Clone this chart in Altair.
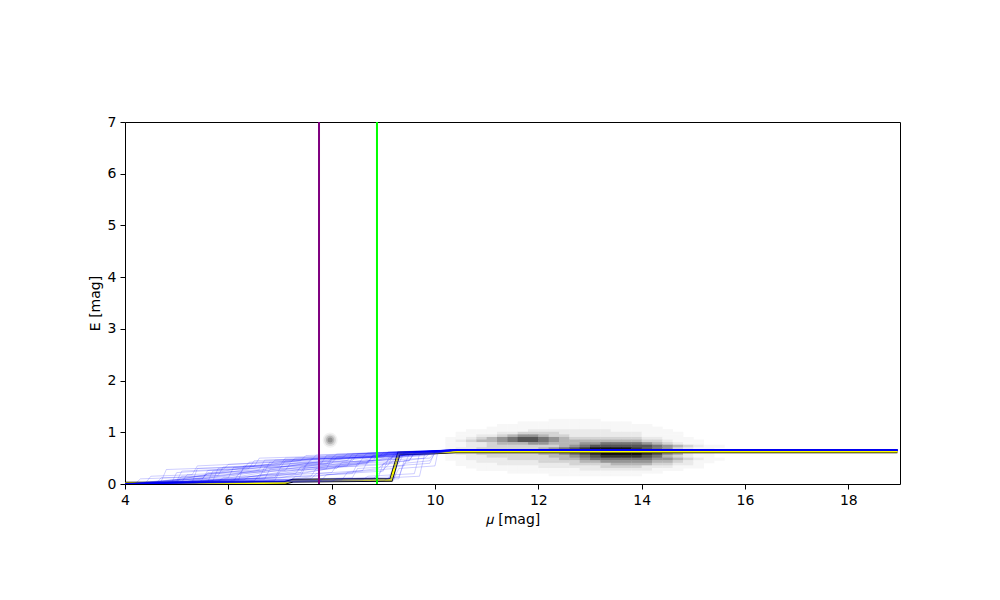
import altair as alt
import pandas as pd

# ---------------- data ----------------
X_DOMAIN = [4, 19]
Y_DOMAIN = [0, 7]
X_TICKS = [4, 6, 8, 10, 12, 14, 16, 18]
Y_TICKS = [0, 1, 2, 3, 4, 5, 6, 7]
X_TITLE = "𝜇 [mag]"
Y_TITLE = "E [mag]"

PURPLE_MU = [7.755]
GREEN_MU = [8.877]

# median curve (yellow with black edge)
MEDIAN_MU = [4.0, 6.3, 7.1, 7.25, 9.15, 9.3, 10.0, 10.4, 18.95]
MEDIAN_E = [0.01, 0.015, 0.025, 0.065, 0.08, 0.59, 0.61, 0.63, 0.63]

# individual samples (blue): "mu E" pairs
SAMPLE_PATHS = [
    "4 0, 4.9 0.02, 5.0 0.22, 5.9 0.28, 6.0 0.38, 7.4 0.45, 7.5 0.55, 9.4 0.6, 10.2 0.655",
    "4 0, 5.3 0.03, 5.4 0.3, 6.8 0.35, 6.9 0.46, 8.6 0.52, 8.7 0.6, 10.3 0.655",
    "4 0, 4.6 0.01, 4.7 0.12, 5.8 0.16, 5.9 0.33, 7.8 0.4, 7.9 0.55, 10.4 0.655",
    "4 0, 5.6 0.04, 5.7 0.25, 6.4 0.3, 6.5 0.45, 9.0 0.55, 9.1 0.62, 10.3 0.655",
    "4 0, 6.1 0.05, 6.2 0.2, 7.1 0.26, 7.2 0.4, 8.3 0.45, 8.4 0.58, 10.2 0.655",
    "4 0, 4.2 0.01, 4.3 0.1, 5.5 0.14, 5.6 0.2, 6.6 0.28, 6.7 0.46, 8.9 0.52, 9.0 0.6, 10.5 0.655",
    "4 0, 6.5 0.06, 6.6 0.18, 7.4 0.22, 7.5 0.38, 8.8 0.45, 8.9 0.58, 10.3 0.655",
    "4 0, 5.0 0.03, 5.1 0.15, 6.2 0.18, 6.3 0.3, 8.0 0.4, 8.1 0.52, 9.7 0.58, 10.4 0.655",
    "4 0, 6.9 0.07, 7.0 0.25, 8.1 0.3, 8.2 0.42, 9.3 0.48, 9.4 0.6, 10.3 0.655",
    "4 0, 5.8 0.05, 5.9 0.12, 7.3 0.2, 7.4 0.33, 8.7 0.4, 8.8 0.55, 10.2 0.655",
    "4 0, 7.2 0.06, 7.3 0.15, 8.4 0.2, 8.5 0.4, 9.5 0.45, 9.6 0.6, 10.4 0.655",
    "4 0, 6.0 0.04, 6.1 0.08, 7.6 0.15, 7.7 0.3, 9.1 0.38, 9.2 0.58, 10.3 0.655",
    "4 0, 7.8 0.07, 7.9 0.18, 9.0 0.25, 9.1 0.5, 9.8 0.55, 10.3 0.655",
    "4 0, 8.2 0.08, 8.3 0.22, 9.2 0.3, 9.3 0.55, 10.4 0.655",
    "4 0, 8.6 0.08, 8.7 0.15, 9.6 0.2, 9.7 0.58, 10.4 0.655",
    "4 0, 9.1 0.09, 9.2 0.35, 9.9 0.4, 10.0 0.62, 10.5 0.655",
    "4 0, 9.2 0.07, 9.3 0.55, 10.3 0.655",
    "4 0, 9.0 0.06, 9.1 0.12, 9.7 0.15, 9.8 0.58, 10.4 0.655",
    "4 0, 8.8 0.1, 9.35 0.6, 10.3 0.655",
    "4 0, 7.5 0.05, 9.2 0.1, 9.3 0.3, 10.0 0.35, 10.05 0.6, 10.5 0.655",
    "4 0, 5.5 0.05, 7.0 0.2, 8.5 0.42, 9.5 0.57, 10.3 0.655",
    "4 0, 6.0 0.08, 7.5 0.3, 9.0 0.52, 10.2 0.655",
    "4 0, 5.0 0.06, 6.5 0.25, 8.0 0.47, 9.5 0.6, 10.2 0.655",
    "4 0, 6.5 0.1, 8.0 0.3, 9.2 0.5, 10.3 0.655",
    "4 0, 4.8 0.04, 6.2 0.3, 7.7 0.5, 9.2 0.6, 10.3 0.655",
    "4 0, 7.0 0.12, 8.2 0.35, 9.4 0.55, 10.4 0.655",
    "4 0, 5.2 0.1, 6.0 0.12, 6.1 0.32, 7.2 0.42, 7.3 0.5, 9.9 0.6, 10.4 0.655",
    "4 0, 7.6 0.1, 7.7 0.2, 8.6 0.26, 8.7 0.45, 9.9 0.5, 10.0 0.62, 10.5 0.655",
    "4 0, 6.3 0.08, 6.4 0.14, 8.0 0.22, 8.1 0.36, 9.3 0.4, 9.4 0.6, 10.4 0.655",
    "4 0, 5.4 0.02, 5.5 0.08, 6.9 0.12, 7.0 0.3, 8.5 0.35, 8.6 0.5, 10.0 0.58, 10.4 0.655",
    "4 0, 8.0 0.05, 8.1 0.1, 9.3 0.14, 9.4 0.4, 9.9 0.45, 10.0 0.6, 10.5 0.655",
    "4 0, 4.5 0.02, 5.8 0.2, 7.0 0.38, 8.5 0.52, 10.0 0.62, 10.4 0.655",
    "4 0, 6.7 0.09, 6.8 0.28, 8.3 0.35, 8.4 0.5, 9.7 0.55, 10.4 0.655",
    "4 0, 8.9 0.12, 9.0 0.4, 9.5 0.45, 9.6 0.6, 10.4 0.655",
    "4 0, 7.3 0.1, 8.9 0.3, 9.25 0.58, 10.3 0.655",
    "4 0, 5.1 0.04, 5.2 0.18, 6.7 0.24, 6.8 0.42, 8.2 0.5, 8.3 0.58, 10.3 0.655",
    "4 0, 5.0 0.05, 5.1 0.25, 6.3 0.3, 6.4 0.42, 8.0 0.5, 8.1 0.58, 10.2 0.655",
    "4 0, 5.7 0.06, 5.8 0.3, 7.0 0.36, 7.1 0.5, 9.0 0.57, 10.3 0.655",
    "4 0, 4.4 0.02, 4.5 0.15, 5.3 0.18, 5.4 0.35, 7.6 0.45, 7.7 0.56, 10.3 0.655",
    "4 0, 6.2 0.08, 6.3 0.35, 8.4 0.45, 8.5 0.58, 10.3 0.655",
    "4 0, 5.2 0.05, 6.8 0.3, 8.2 0.48, 9.6 0.6, 10.3 0.655",
    "4 0, 6.0 0.15, 7.0 0.3, 7.1 0.45, 9.4 0.55, 9.5 0.62, 10.4 0.655",
    "4 0, 4.7 0.05, 4.8 0.28, 6.5 0.34, 6.6 0.5, 9.2 0.58, 10.3 0.655",
    "4 0, 7.4 0.15, 7.5 0.35, 8.7 0.42, 8.8 0.56, 10.3 0.655",
    "4 0, 5.9 0.1, 7.2 0.3, 8.6 0.5, 9.8 0.62, 10.3 0.655",
    "4 0, 6.6 0.12, 6.7 0.32, 7.9 0.38, 8.0 0.5, 9.5 0.56, 10.4 0.655",
    "4 0, 8.4 0.12, 8.5 0.3, 9.4 0.35, 9.5 0.58, 10.4 0.655",
    "4 0, 5.5 0.1, 5.6 0.22, 7.9 0.3, 8.0 0.48, 9.0 0.52, 9.1 0.6, 10.3 0.655",
    "4 0, 9.3 0.1, 9.4 0.45, 9.8 0.5, 9.9 0.6, 10.4 0.655",
    "4 0, 4.9 0.08, 5.5 0.1, 5.6 0.26, 7.5 0.35, 7.6 0.48, 9.6 0.56, 10.4 0.655",
]
SAMPLE_END_MU = 18.95
SAMPLE_END_E = 0.655

# small isolated density spot
SPOT_MU = [7.97]
SPOT_E = [0.85]

# density map (darkness 0-9), columns start at mu=10.0 step 0.2,
# rows: lower edge from E=1.20 downwards in 0.05 steps
DENSITY_MU_START = 10.0
DENSITY_MU_STEP = 0.2
DENSITY_E_TOP = 1.20
DENSITY_E_STEP = 0.05
DENSITY_ROWS = [
    "000000000001111100000000000000",  # 1.20
    "000000001111111111100000000000",  # 1.15
    "000000111111111111111000000000",  # 1.10
    "000001111111111111111100000000",  # 1.05
    "000111111222222221111110000000",  # 1.00
    "001111223333222222221111000000",  # 0.95
    "001122345543322222221111000000",  # 0.90
    "011234567765433333332211100000",  # 0.85
    "012344567765444444443321110000",  # 0.80
    "011223444554445566665432110000",  # 0.75
    "011223333333456777777654321100",  # 0.70
    "012233333345678999987653211000",  # 0.65
    "012233333345678999998754211000",  # 0.60
    "012233333344567899998754211000",  # 0.55
    "011223333334456788887643211000",  # 0.50
    "011222233333445666666554321100",  # 0.45
    "001122222233334455555443211000",  # 0.40
    "001111222222233334444332210000",  # 0.35
    "000111111122222233332221110000",  # 0.30
    "000011111111112222222111000000",  # 0.25
    "000000011111111111111100000000",  # 0.20
    "000000000001111111110000000000",  # 0.15
]
LEVEL_GRAY = [255, 247, 234, 212, 182, 150, 118, 86, 52, 18]

# ---------------- tables ----------------
dens = []
for r, row in enumerate(DENSITY_ROWS):
    e0 = DENSITY_E_TOP - r * DENSITY_E_STEP
    for c, ch in enumerate(row):
        lvl = int(ch)
        if lvl == 0:
            continue
        m0 = DENSITY_MU_START + c * DENSITY_MU_STEP
        g = LEVEL_GRAY[lvl]
        dens.append({
            "mu": m0, "mu2": m0 + DENSITY_MU_STEP * 1.04,
            "e": e0, "e2": e0 + DENSITY_E_STEP * 1.2,
            "fill": f"#{g:02x}{g:02x}{g:02x}",
        })
dens_df = pd.DataFrame(dens)

samp = []
for i, path in enumerate(SAMPLE_PATHS):
    pts = [tuple(float(v) for v in p.split()) for p in path.split(",")]
    pts.append((SAMPLE_END_MU, SAMPLE_END_E))
    for k, (m, e) in enumerate(pts):
        samp.append({"id": i, "k": k, "mu": m, "e": e})
samp_df = pd.DataFrame(samp)

med_df = pd.DataFrame({"mu": MEDIAN_MU, "e": MEDIAN_E, "k": list(range(len(MEDIAN_MU)))})
spot_df = pd.DataFrame({"mu": SPOT_MU, "e": SPOT_E})
purple_df = pd.DataFrame({"mu": PURPLE_MU})
green_df = pd.DataFrame({"mu": GREEN_MU})

# ---------------- chart ----------------
xs = alt.Scale(domain=X_DOMAIN, nice=False, zero=False)
ys = alt.Scale(domain=Y_DOMAIN, nice=False, zero=False)

x_axis = alt.Axis(values=X_TICKS, title=X_TITLE, format="d", labelFlush=False)
y_axis = alt.Axis(values=Y_TICKS, title=Y_TITLE, format="d", labelFlush=False)


def X():
    return alt.X("mu:Q", scale=xs, axis=x_axis)


def Y():
    return alt.Y("e:Q", scale=ys, axis=y_axis)


density = alt.Chart(dens_df).mark_rect(clip=True).encode(
    x=X(), x2="mu2:Q", y=Y(), y2="e2:Q",
    color=alt.Color("fill:N", scale=None),
)

spot_layers = [
    alt.Chart(spot_df).mark_circle(color="black", size=s, opacity=o, clip=True).encode(x=X(), y=Y())
    for s, o in [(230, 0.05), (140, 0.1), (70, 0.15), (25, 0.2)]
]

med_black = alt.Chart(med_df).mark_line(color="black", strokeWidth=3.6, clip=True).encode(
    x=X(), y=Y(), order="k:Q"
)
med_yellow = alt.Chart(med_df).mark_line(color="#ffff00", strokeWidth=2, clip=True).encode(
    x=X(), y=Y(), order="k:Q"
)

samples = alt.Chart(samp_df).mark_line(color="#0000ff", strokeWidth=0.7, opacity=0.28, clip=True).encode(
    x=X(), y=Y(), detail="id:N", order="k:Q",
)

purple = alt.Chart(purple_df).mark_rule(color="#800080", strokeWidth=2).encode(x=X())
green = alt.Chart(green_df).mark_rule(color="#00ff00", strokeWidth=2).encode(x=X())

chart = alt.layer(
    density, *spot_layers, med_black, med_yellow, samples, purple, green
).properties(
    width=775, height=362,
    autosize=alt.AutoSizeParams(type="none"),
    padding={"left": 117, "top": 114, "right": 90, "bottom": 100},
).configure_view(
    stroke="black", strokeWidth=1
).configure_axis(
    grid=False, domain=False,
    tickColor="black", tickSize=5, tickWidth=1,
    labelColor="black", labelFont="DejaVu Sans", labelFontSize=14, labelPadding=4,
    titleColor="black", titleFont="DejaVu Sans", titleFontSize=14, titleFontWeight="normal",
    titlePadding=5,
)

chart.save("out.html", embed_options={"renderer": "svg", "actions": False})
